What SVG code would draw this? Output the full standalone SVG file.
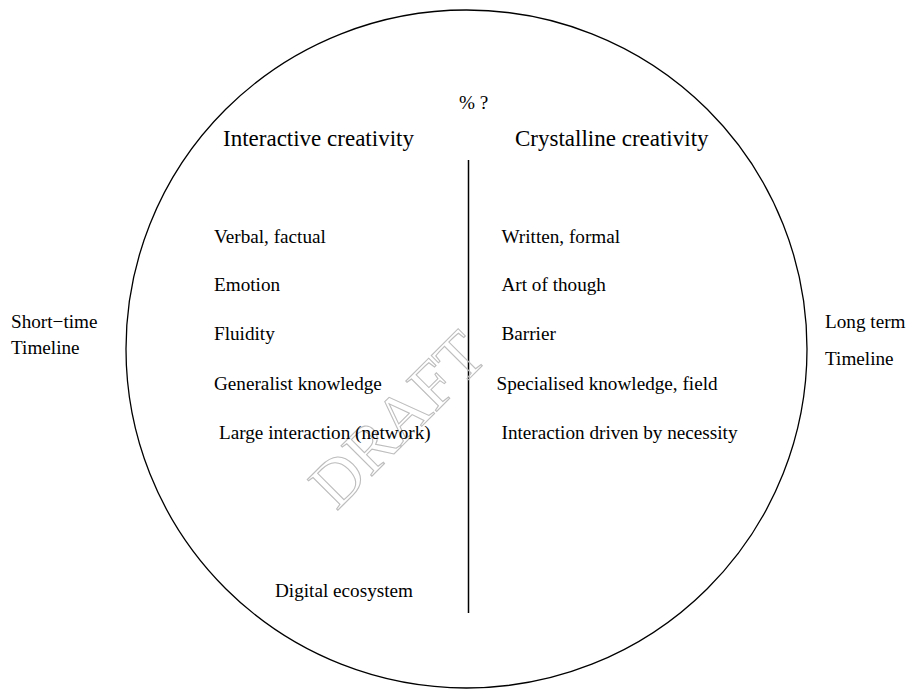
<svg xmlns="http://www.w3.org/2000/svg" width="913" height="690" viewBox="0 0 913 690">
<style>
text{font-family:"Liberation Serif","Times New Roman",serif;fill:#000}
.h{font-size:23px}
.t{font-size:19.2px}
.wm{font-size:66px;fill:none;stroke:#bdbdbd;stroke-width:1.1}
</style>
<rect width="913" height="690" fill="#fff"/>
<g id="circle"><ellipse cx="466.5" cy="349" rx="340.5" ry="339" fill="none" stroke="#000" stroke-width="1.3"/></g>
<g id="connectors"><line x1="468.5" y1="160" x2="468.5" y2="613" stroke="#000" stroke-width="1.5"/></g>
<g id="watermark"><text class="wm" x="413" y="435" text-anchor="middle" transform="rotate(-45 413 435)">DRAFT</text></g>
<g id="question"><text class="t" x="459" y="109">% ?</text></g>
<g id="left-column">
<text class="h" x="223" y="146">Interactive creativity</text>
<text class="t" x="214" y="243">Verbal, factual</text>
<text class="t" x="214" y="291">Emotion</text>
<text class="t" x="214" y="340">Fluidity</text>
<text class="t" x="214" y="390">Generalist knowledge</text>
<text class="t" x="219" y="439">Large interaction (network)</text>
<text class="t" x="275" y="597">Digital ecosystem</text>
</g>
<g id="right-column">
<text class="h" x="515" y="146">Crystalline creativity</text>
<text class="t" x="501.5" y="243">Written, formal</text>
<text class="t" x="501.5" y="291">Art of though</text>
<text class="t" x="501.5" y="340">Barrier</text>
<text class="t" x="496.5" y="390">Specialised knowledge, field</text>
<text class="t" x="501.5" y="439">Interaction driven by necessity</text>
</g>
<g id="short-time"><text class="t" x="11" y="328">Short−time</text><text class="t" x="11" y="354">Timeline</text></g>
<g id="long-term"><text class="t" x="825" y="328">Long term</text><text class="t" x="825" y="365">Timeline</text></g>
</svg>
